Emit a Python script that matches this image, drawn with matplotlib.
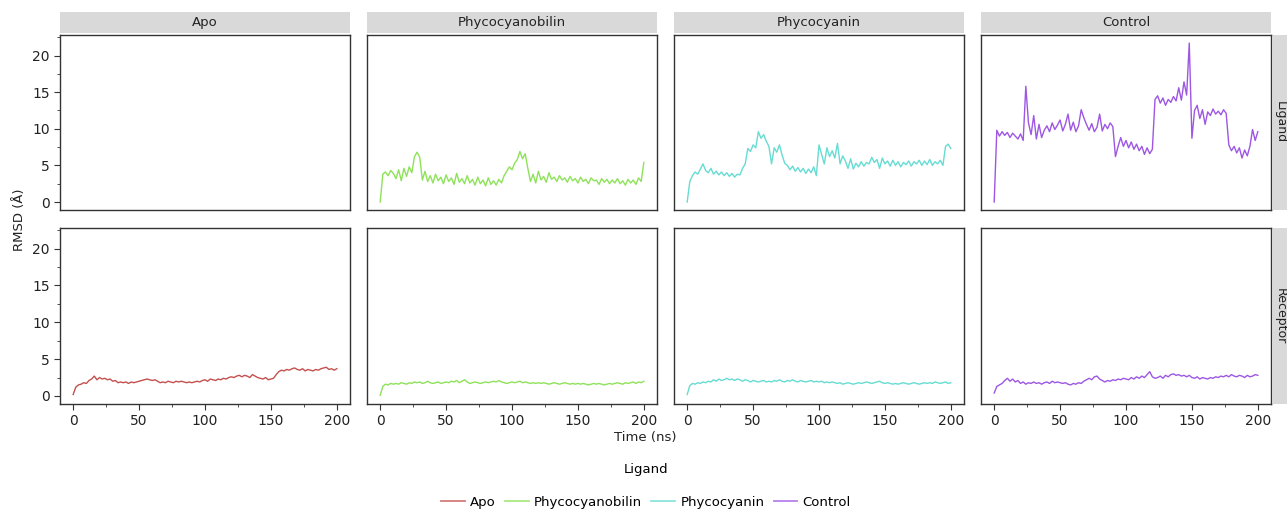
import matplotlib.pyplot as plt
import numpy as np
from matplotlib.lines import Line2D
from matplotlib.patches import Rectangle
from matplotlib.ticker import MultipleLocator

# time axis, one value every 2 ns
time_ns = np.arange(0, 201, 2)

ligands = ["Apo", "Phycocyanobilin", "Phycocyanin", "Control"]
colors = ["#c4504e", "#8ee25a", "#66dcd2", "#9d57e2"]

# ligand RMSD (Apo has no ligand)
pcb_ligand = [
    0.0, 3.8, 4.1, 3.6, 4.3, 3.9, 3.2, 4.4, 2.9, 4.6, 3.5, 4.8, 4.0, 6.2, 6.8, 6.1,
    3.0, 4.2, 2.8, 3.6, 2.6, 3.8, 2.9, 3.4, 2.5, 3.7, 2.8, 3.3, 2.4, 3.9, 2.7, 3.2,
    2.5, 3.6, 2.6, 3.1, 2.3, 3.4, 2.5, 3.0, 2.2, 3.3, 2.4, 2.9, 2.3, 3.1, 2.6, 3.6,
    4.2, 4.8, 4.4, 5.3, 5.8, 6.9, 5.9, 6.6, 4.6, 2.8, 3.8, 2.6, 4.2, 3.0, 3.5, 2.7,
    4.0, 3.1, 3.4, 2.8, 3.6, 3.0, 3.3, 2.7, 3.5, 2.9, 3.2, 2.6, 3.4, 2.8, 3.1, 2.5,
    3.3, 2.9, 3.0, 2.4, 3.2, 2.7, 3.1, 2.5, 3.0, 2.6, 3.2, 2.5, 2.9, 2.3, 3.1, 2.6,
    3.0, 2.4, 3.3, 2.8, 5.4,
]
pc_ligand = [
    0.0, 2.8, 3.6, 4.1, 3.8, 4.5, 5.2, 4.3, 4.0, 4.6, 3.8, 4.2, 3.7, 4.1, 3.6, 4.0,
    3.5, 3.9, 3.4, 3.8, 3.7, 4.6, 5.2, 7.3, 6.9, 7.8, 7.4, 9.6, 8.7, 9.2, 8.3, 7.6,
    5.2, 7.4, 6.8, 7.8, 6.4, 5.3, 5.0, 4.4, 4.9, 4.2, 4.7, 4.1, 4.6, 3.9, 4.5, 4.0,
    4.8, 3.6, 7.8, 6.5, 5.2, 7.4, 6.2, 7.0, 6.0, 8.0, 5.2, 6.3, 5.6, 4.6, 5.9, 4.5,
    5.3, 4.8, 5.5, 4.9, 5.4, 5.2, 6.1, 5.4, 5.8, 4.6, 6.0, 5.2, 5.6, 4.9, 5.7, 5.0,
    5.5, 4.8, 5.4, 5.1, 5.6, 4.9, 5.5, 5.2, 5.7, 5.0, 5.6, 5.1, 5.8, 5.0, 5.5, 5.2,
    5.7, 5.0, 7.6, 7.9, 7.3,
]
ctl_ligand = [
    0.0, 9.8, 9.0, 9.6, 9.1, 9.5, 8.8, 9.4, 9.0, 8.6, 9.3, 8.4, 15.8, 10.8, 9.2, 11.8,
    8.6, 10.6, 8.8, 9.8, 10.4, 9.6, 10.8, 9.9, 10.5, 11.2, 9.7, 10.6, 12.0, 9.8, 10.9, 9.6,
    10.4, 12.6, 11.5, 10.6, 9.8, 10.7, 9.6, 10.2, 12.0, 9.7, 10.6, 10.0, 10.8, 10.3, 6.2, 7.6,
    8.8, 7.6, 8.4, 7.4, 8.2, 7.2, 7.9, 7.0, 7.6, 6.5, 7.4, 6.6, 7.2, 14.0, 14.5, 13.5,
    14.2, 13.2, 14.0, 13.6, 14.4, 13.8, 15.6, 13.9, 16.4, 14.6, 21.7, 8.7, 12.5, 13.2, 11.4, 12.6,
    10.6, 12.3, 11.8, 12.7, 12.0, 12.4, 11.9, 12.6, 12.1, 7.8, 7.0, 7.6, 6.7, 7.4, 6.0, 7.1,
    6.3, 7.6, 9.9, 8.4, 9.6,
]

# receptor RMSD
apo_receptor = [
    0.2, 1.2, 1.5, 1.6, 1.8, 1.7, 2.1, 2.3, 2.7, 2.2, 2.5, 2.3, 2.4, 2.2, 2.3, 2.0,
    2.1, 1.8, 1.9, 1.8, 1.9, 1.7, 1.9, 1.8, 1.9, 2.0, 2.1, 2.2, 2.3, 2.2, 2.1, 2.2,
    2.0, 1.8, 1.9, 1.8, 2.0, 1.9, 1.8, 2.0, 1.9, 2.0, 1.9, 1.8, 1.9, 1.8, 1.9, 2.0,
    1.9, 2.1, 2.2, 2.0, 2.3, 2.2, 2.1, 2.3, 2.2, 2.4, 2.3, 2.5, 2.6, 2.5, 2.7, 2.8,
    2.6, 2.8, 2.7, 2.5, 2.9, 2.7, 2.5, 2.4, 2.3, 2.5, 2.2, 2.3, 2.4, 2.9, 3.3, 3.5,
    3.4, 3.6, 3.5, 3.7, 3.8, 3.6, 3.5, 3.7, 3.4, 3.6, 3.5, 3.4, 3.6, 3.5, 3.7, 3.8,
    3.9, 3.6, 3.7, 3.5, 3.7,
]
pcb_receptor = [
    0.1, 1.3, 1.6, 1.5, 1.7, 1.6, 1.7, 1.6, 1.8, 1.7, 1.6, 1.8, 1.7, 1.9, 1.8, 1.9,
    1.7, 1.8, 2.0, 1.8, 1.7, 1.8, 1.9, 1.7, 1.8, 1.9, 1.8, 2.0, 1.9, 2.1, 1.8, 2.0,
    2.2, 1.9, 1.7, 1.8, 1.9, 1.8, 1.7, 1.8, 1.9, 1.8, 1.9, 2.0, 1.9, 2.1, 1.9, 1.8,
    1.7, 1.8, 1.9, 1.8, 1.9, 2.0, 1.8, 1.9, 1.8, 1.7, 1.8, 1.7, 1.8, 1.7, 1.8, 1.7,
    1.6, 1.7, 1.8, 1.7, 1.6, 1.7, 1.8, 1.7, 1.6, 1.7, 1.6, 1.7, 1.6, 1.7, 1.6, 1.5,
    1.6, 1.7, 1.6, 1.7, 1.6, 1.5, 1.6, 1.7, 1.6, 1.7, 1.8, 1.7, 1.6, 1.8, 1.7, 1.8,
    1.9, 1.7, 1.9, 1.8, 2.0,
]
pc_receptor = [
    0.2, 1.4, 1.7, 1.6, 1.8, 1.7, 1.9, 1.8, 2.0, 1.9, 2.2, 2.0, 2.3, 2.1, 2.2, 2.4,
    2.2, 2.3, 2.1, 2.3, 2.2, 2.0, 2.2, 2.1, 1.9, 2.1, 2.0, 1.9, 2.0, 2.1, 1.9, 2.0,
    1.9, 2.1, 2.0, 2.2, 2.0, 1.9, 2.1, 2.0, 2.2, 2.0, 1.9, 2.1, 2.0, 1.9, 2.0, 2.1,
    1.9, 2.0, 1.9, 2.0, 1.8, 1.9, 1.8, 1.9, 1.8, 1.7, 1.8, 1.6, 1.7, 1.8, 1.7, 1.6,
    1.7, 1.8, 1.7, 1.8, 1.9, 1.8, 1.7, 1.8, 1.9, 2.0, 1.8, 1.7, 1.8, 1.7, 1.6, 1.7,
    1.6, 1.7, 1.8, 1.7, 1.6, 1.7, 1.8, 1.7, 1.6, 1.7, 1.8, 1.7, 1.8, 1.7, 1.9, 1.8,
    1.7, 1.8, 1.9, 1.7, 1.8,
]
ctl_receptor = [
    0.4, 1.3, 1.5, 1.7, 2.1, 2.4, 2.0, 2.3, 1.9, 2.1, 1.7, 1.9, 1.6, 1.8, 1.7, 1.9,
    1.7, 1.8, 1.6, 1.8, 1.9, 1.7, 2.0, 1.8, 1.9, 1.8, 1.7, 1.8, 1.6, 1.5, 1.7, 1.6,
    1.8, 1.7, 2.0, 2.2, 2.4, 2.2, 2.6, 2.7, 2.3, 2.1, 1.9, 2.1, 2.0, 2.2, 2.1, 2.3,
    2.2, 2.4, 2.3, 2.2, 2.5, 2.3, 2.6, 2.4, 2.7, 2.5, 2.9, 3.3, 2.6, 2.4, 2.5, 2.7,
    2.4, 2.8, 2.6, 2.9, 3.0, 2.8, 2.9, 2.7, 2.8, 2.6, 2.8, 2.5, 2.4, 2.6, 2.3, 2.5,
    2.4, 2.3, 2.5, 2.4, 2.6, 2.5, 2.7, 2.6, 2.8, 2.6, 2.9, 2.7, 2.6, 2.8, 2.7, 2.5,
    2.8, 2.6, 2.7, 2.9, 2.8,
]

rows = ["Ligand", "Receptor"]
rmsd = {
    "Ligand": [None, pcb_ligand, pc_ligand, ctl_ligand],
    "Receptor": [apo_receptor, pcb_receptor, pc_receptor, ctl_receptor],
}

W, H = 1287, 509
fig = plt.figure(figsize=(W / 100, H / 100), dpi=100)
plt.rcParams["font.family"] = "DejaVu Sans"

col_left = [60, 367, 674, 981]
col_width = 290
row_top = [35, 228]
row_height = [175, 176]
strip_bg = "#d9d9d9"
spine_col = "#333333"


def px_box(x0, y0, w, h):
    return [x0 / W, 1 - (y0 + h) / H, w / W, h / H]


for r, row in enumerate(rows):
    for c, lig in enumerate(ligands):
        ax = fig.add_axes(px_box(col_left[c], row_top[r], col_width, row_height[r]))
        y = rmsd[row][c]
        if y is not None:
            ax.plot(time_ns, y, color=colors[c], lw=1.0)
        ax.set_xlim(-10, 210)
        ax.set_ylim(-1.09, 22.8)
        ax.xaxis.set_major_locator(MultipleLocator(50))
        ax.xaxis.set_minor_locator(MultipleLocator(25))
        ax.yaxis.set_major_locator(MultipleLocator(5))
        ax.yaxis.set_minor_locator(MultipleLocator(2.5))
        for s in ax.spines.values():
            s.set_color(spine_col)
            s.set_linewidth(1.0)
        ax.tick_params(which="major", length=4, width=0.8, labelsize=10,
                       color=spine_col, labelcolor="#222222")
        ax.tick_params(which="minor", length=2, width=0.6, color=spine_col)
        if r == 0:
            ax.tick_params(axis="x", which="both", bottom=False, labelbottom=False)
        if c != 0:
            ax.tick_params(axis="y", which="both", left=False, labelleft=False)

        # top strips with ligand names
        if r == 0:
            fig.patches.append(Rectangle((col_left[c] / W, 1 - 33 / H), col_width / W,
                                         21 / H, transform=fig.transFigure,
                                         facecolor=strip_bg, edgecolor="none"))
            fig.text((col_left[c] + col_width / 2) / W, 1 - 22.5 / H, lig,
                     ha="center", va="center", fontsize=9.5, color="#222222")

    # right strips at the figure edge
    fig.patches.append(Rectangle((1273 / W, 1 - (row_top[r] + row_height[r]) / H),
                                 26 / W, row_height[r] / H, transform=fig.transFigure,
                                 facecolor=strip_bg, edgecolor="none"))
    fig.text(1280 / W, 1 - (row_top[r] + row_height[r] / 2) / H, row,
             ha="center", va="center", rotation=-90, fontsize=9, color="#222222")

fig.text(20 / W, 1 - 220 / H, "RMSD (Å)", rotation=90, ha="center", va="center",
         fontsize=9.5, color="#222222")
fig.text(645 / W, 1 - 438 / H, "Time (ns)", ha="center", va="center",
         fontsize=9.5, color="#222222")

handles = [Line2D([], [], color=col, lw=1.3, alpha=0.75) for col in colors]
leg = fig.legend(handles, ligands, title="Ligand", loc="center",
                 bbox_to_anchor=(646 / W, 1 - 486 / H), ncol=4, frameon=False,
                 fontsize=9.5, title_fontsize=9.5, handlelength=1.8,
                 handletextpad=0.4, columnspacing=0.7, borderpad=0.2)
leg._legend_box.sep = 14

fig.savefig("out.png", dpi=100)
